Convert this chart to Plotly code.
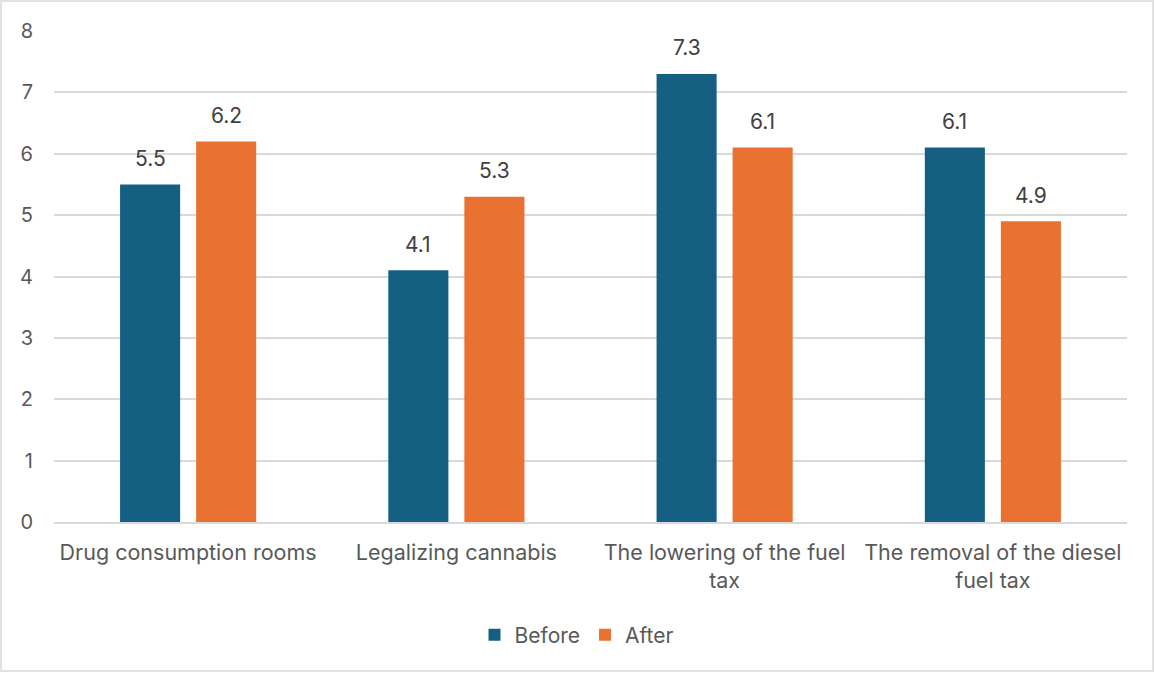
import plotly.graph_objects as go

categories = ["Drug consumption rooms", "Legalizing cannabis",
              "The lowering of the fuel<br>tax", "The removal of the diesel<br>fuel tax"]
before = [5.5, 4.1, 7.3, 6.1]
after = [6.2, 5.3, 6.1, 4.9]
y_ticks = [0, 1, 2, 3, 4, 5, 6, 7, 8]

W, H = 1155, 673
ml, mr, mt, mb = 54, 28, 31, 151
pw, ph = W - ml - mr, H - mt - mb

font = "Inter, 'Open Sans', sans-serif"
fig = go.Figure()
fig.add_trace(go.Bar(name="Before", x=categories, y=before, marker_color="#156082",
                     marker_line_width=0))
fig.add_trace(go.Bar(name="After", x=categories, y=after, marker_color="#E97132",
                     marker_line_width=0))

bargap, bargroupgap = 0.433, 0.21
slot = pw / len(categories) * (1 - bargap) / 2
annotations = []
for series, sgn in ((before, -1), (after, 1)):
    for c, v in zip(categories, series):
        annotations.append(dict(x=c, y=v, xref="x", yref="y", text=f"{v:.1f}",
                                showarrow=False, xshift=sgn * slot / 2, yshift=26,
                                yanchor="middle",
                                font=dict(size=21, color="#404040", family=font)))

fig.update_layout(
    width=W, height=H,
    margin=dict(l=ml, r=mr, t=mt, b=mb),
    paper_bgcolor="white", plot_bgcolor="white",
    barmode="group", bargap=bargap, bargroupgap=bargroupgap,
    font=dict(family=font, size=21, color="#595959"),
    annotations=annotations,
    legend=dict(orientation="h", x=0.5 - 14 / pw, xanchor="center", y=(mt + ph - 635) / ph,
                yanchor="middle", font=dict(size=21, color="#595959"),
                itemwidth=30, traceorder="normal"),
    xaxis=dict(showgrid=False, showline=True, linecolor="#D9D9D9", linewidth=1.5,
               ticks="", ticklabelstandoff=10, tickfont=dict(size=21.5, color="#595959")),
    yaxis=dict(range=[0, 8], tickvals=y_ticks, showgrid=True, gridcolor="#D9D9D9",
               gridwidth=1.5, zeroline=False, showline=False, ticks="",
               ticklabelstandoff=20, tickfont=dict(size=20, color="#595959")),
    shapes=[dict(type="rect", xref="paper", yref="paper",
                 x0=(1 - ml) / pw, x1=(W - 2 - ml) / pw,
                 y0=(mt + ph - (H - 2)) / ph, y1=1 + (mt - 1) / ph,
                 line=dict(color="#D9D9D9", width=1.5), fillcolor="rgba(0,0,0,0)", layer="below")],
)

fig.write_html("out.html")
